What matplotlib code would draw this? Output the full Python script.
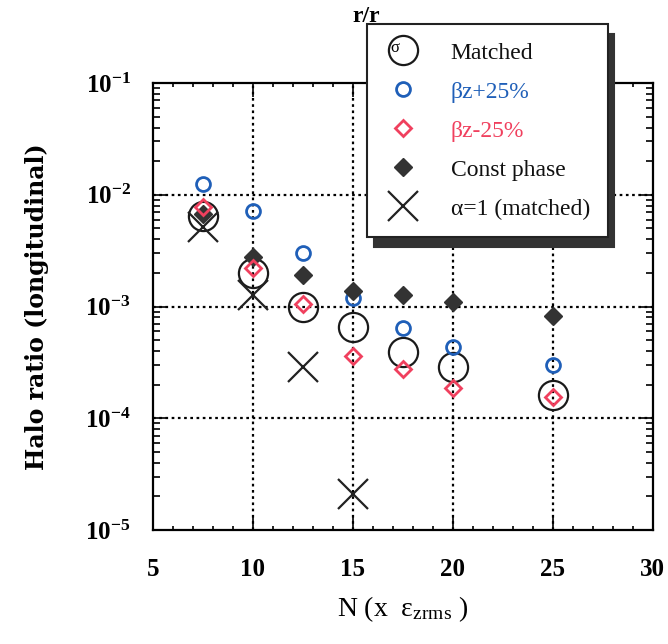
import matplotlib
matplotlib.use('Agg')
import matplotlib.pyplot as plt
from matplotlib.ticker import LogLocator, NullFormatter, MultipleLocator

# data
n_all = [7.5, 10, 12.5, 15, 17.5, 20, 25]
matched = [6.5e-3, 2.0e-3, 1.0e-3, 6.5e-4, 3.9e-4, 2.9e-4, 1.6e-4]
bz_plus = [1.26e-2, 7.1e-3, 3.0e-3, 1.2e-3, 6.4e-4, 4.3e-4, 3.0e-4]
bz_minus = [7.8e-3, 2.2e-3, 1.05e-3, 3.6e-4, 2.76e-4, 1.85e-4, 1.55e-4]
const_phase = [6.8e-3, 2.75e-3, 1.9e-3, 1.37e-3, 1.26e-3, 1.10e-3, 8.3e-4]
n_alpha = [7.5, 10, 12.5, 15]
alpha1 = [5.1e-3, 1.26e-3, 2.9e-4, 2.1e-5]

plt.rcParams['font.family'] = ['Liberation Serif', 'DejaVu Serif']
plt.rcParams['mathtext.fontset'] = 'custom'
plt.rcParams['mathtext.rm'] = 'Liberation Serif'
plt.rcParams['mathtext.it'] = 'Liberation Serif:italic'
plt.rcParams['mathtext.bf'] = 'Liberation Serif:bold'

fig = plt.figure(figsize=(6.68, 6.44), dpi=100)
ax = fig.add_axes([0.229, 0.177, 0.748, 0.694])

ax.plot(n_all, matched, 'o', ms=21, mfc='none', mec='#1a1a1a', mew=1.6, label='Matched', zorder=3)
ax.plot(n_all, bz_plus, 'o', ms=10, mfc='none', mec='#1f5fb8', mew=2.0, label='βz+25%', zorder=4)
ax.plot(n_all, bz_minus, 'D', ms=8, mfc='none', mec='#f0405e', mew=2.0, label='βz-25%', zorder=5)
ax.plot(n_all, const_phase, 'D', ms=9, color='#333333', label='Const phase', zorder=4)
ax.plot(n_alpha, alpha1, 'x', ms=22, mec='#222222', mew=1.6, label='α=1 (matched)', zorder=3)

ax.set_yscale('log')
ax.set_xlim(5, 30)
ax.set_ylim(1e-5, 1e-1)
ax.xaxis.set_major_locator(MultipleLocator(5))
ax.xaxis.set_minor_locator(MultipleLocator(1))
ax.yaxis.set_minor_locator(LogLocator(base=10, subs=range(2, 10), numticks=20))
ax.yaxis.set_minor_formatter(NullFormatter())
ax.set_yticks([1e-5, 1e-4, 1e-3, 1e-2, 1e-1])
ax.set_yticklabels([r'$\mathbf{10^{-5}}$', r'$\mathbf{10^{-4}}$', r'$\mathbf{10^{-3}}$',
                    r'$\mathbf{10^{-2}}$', r'$\mathbf{10^{-1}}$'])
ax.set_xticks([5, 10, 15, 20, 25, 30])
ax.set_xticklabels(['5', '10', '15', '20', '25', '30'], fontweight='bold')

ax.tick_params(which='both', direction='in', top=True, right=True, width=1.2)
ax.tick_params(which='major', length=10, labelsize=18)
ax.tick_params(axis='x', which='major', pad=20)
ax.tick_params(axis='y', which='major', pad=16)
ax.tick_params(which='minor', length=5)
ax.tick_params(axis='x', which='minor', length=3)
for s in ax.spines.values():
    s.set_linewidth(1.6)

for x in [10, 15, 20, 25]:
    ax.axvline(x, color='black', ls=(0, (1.2, 1.6)), lw=1.6, zorder=1)
for y in [1e-4, 1e-3, 1e-2]:
    ax.axhline(y, color='black', ls=(0, (1.2, 1.6)), lw=1.6, zorder=1)

ax.set_ylabel('Halo ratio (longitudinal)', fontsize=17, fontweight='bold',
              family=['DejaVu Serif'], labelpad=26)
ax.set_xlabel(r'N (x  ε$_{\mathrm{zrms}}$ )', fontsize=20, labelpad=10)

leg = ax.legend(loc='upper left', bbox_to_anchor=(0.549, 0.962), bbox_transform=fig.transFigure,
                fontsize=17, frameon=True, fancybox=False, framealpha=1, edgecolor='#222222',
                labelspacing=0.74, handletextpad=1.2, borderpad=0.75, handlelength=1.6,
                borderaxespad=0,
                labelcolor=['#111111', '#1f5fb8', '#f0405e', '#111111', '#111111'],
                shadow={'ox': 5, 'oy': -7, 'color': '#333333', 'alpha': 1})
leg.get_frame().set_linewidth(1.5)
leg.set_zorder(10)

fig.text(0.527, 0.975, 'r/r', fontsize=17, fontweight='bold', ha='left', va='center')
fig.text(0.585, 0.925, 'σ', fontsize=12, ha='left', va='center', zorder=20)

fig.savefig('out.png', dpi=100)
